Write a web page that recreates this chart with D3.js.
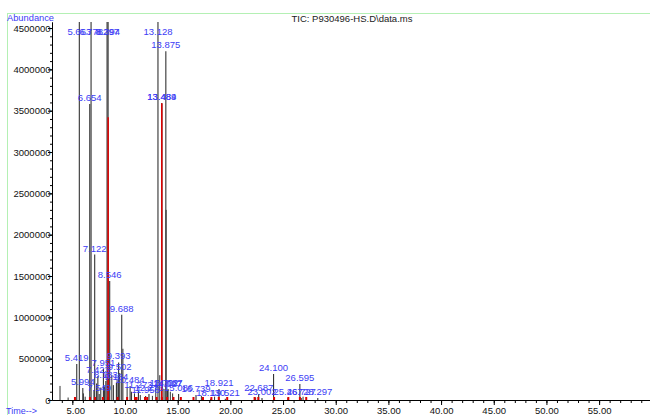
<!DOCTYPE html>
<html>
<head>
<meta charset="utf-8">
<script src="https://cdn.jsdelivr.net/npm/d3@7"></script>
<style>
body{margin:0;background:#fff}
svg text{font-family:"Liberation Sans",Arial,sans-serif}
</style>
</head>
<body>
<div id="chart"></div>
<script>
// labelled peaks: retention time (min) and apex abundance
var peakRt = [5.419, 5.663, 5.994, 6.654, 6.778, 7.122, 7.423, 7.549, 7.951, 8.183, 8.297, 8.394,
  8.546, 9.184, 9.393, 9.502, 9.688, 10.484, 11.273, 11.958, 12.273, 13.128, 13.484, 13.489,
  13.702, 13.875, 14.027, 14.087, 15.086, 16.739, 18.130, 18.921, 19.521, 22.687, 23.002, 24.100,
  25.467, 26.595, 26.727, 28.297]
var peakAbund = [435000, 5000000, 145000, 3580000, 5000000, 1760000, 290000, 73000, 375000, 230000, 5000000, 5000000,
  1440000, 210000, 455000, 327000, 1030000, 170000, 109000, 48000, 73000, 5000000, 3590000, 3590000,
  133000, 4220000, 120000, 133000, 73000, 60000, 14000, 133000, 14000, 73000, 24000, 315000,
  24000, 194000, 24000, 24000]

// smaller unlabelled peaks
var minorRt = [3.83, 4.60, 6.05, 6.22, 7.05, 7.30, 7.70, 8.05, 8.75, 8.90, 9.25, 9.80, 10.20,
  10.62, 10.90, 11.45, 12.60, 12.92, 13.30, 13.90, 14.30, 14.52, 16.50, 17.25, 18.50, 22.40, 26.90]
var minorAbund = [170000, 30000, 80000, 40000, 120000, 200000, 150000, 160000, 300000, 180000, 250000, 620000, 150000,
  100000, 80000, 60000, 50000, 150000, 300000, 2300000, 100000, 80000, 30000, 50000, 40000, 30000, 40000]

// integrated (red) peaks
var redRt = [8.40, 13.489]
var redAbund = [3420000, 3590000]

// red integration marks on the baseline
var markRt = [5.25, 6.67, 7.15, 7.9, 8.4, 9.3, 10.2, 10.95, 11.1, 11.9, 12.1, 13.0, 13.5, 14.0, 14.6,
  15.3, 16.5, 17.4, 18.2, 18.9, 19.7, 22.3, 22.65, 24.15, 25.5, 26.6, 27.2]

var xTicks = d3.range(5, 60, 5)
var xMinor = d3.range(4, 61, 1)
var yTicks = d3.range(0, 4500001, 500000)
var yMinor = d3.range(0, 4500001, 100000)

var W = 650, H = 415
var svg = d3.select("#chart").append("svg").attr("width", W).attr("height", H)

// green frame
svg.append("rect").attr("x", 7.5).attr("y", 13.5).attr("width", 700).attr("height", 500)
  .attr("fill", "none").attr("stroke", "#b4f0b4")

var x = d3.scaleLinear().domain([3.07, 60.4]).range([52, 656])
var y = d3.scaleLinear().domain([0, 4573000]).range([400, 22])

svg.append("defs").append("clipPath").attr("id", "clip")
  .append("rect").attr("x", 52).attr("y", 22).attr("width", 604).attr("height", 378)

var plot = svg.append("g").attr("clip-path", "url(#clip)")

var blue = "#3c3cf5"

// peaks as thin spikes
function spikes(rt, ab, color, w) {
  plot.append("g").selectAll("line").data(rt).enter().append("line")
    .attr("x1", d => x(d)).attr("x2", d => x(d))
    .attr("y1", y(0)).attr("y2", (d, i) => y(ab[i]))
    .attr("stroke", color).attr("stroke-width", w)
}
spikes(minorRt, minorAbund, "#333", 1)
spikes(peakRt, peakAbund, "#333", 1.1)
spikes(redRt, redAbund, "#e00000", 1.5)

// baseline marks
plot.append("g").selectAll("rect").data(markRt).enter().append("rect")
  .attr("x", d => x(d) - 1).attr("y", y(0) - 3).attr("width", 2).attr("height", 3)
  .attr("fill", "#e00000")

// axes
var yAxis = svg.append("g").attr("transform", "translate(52,0)")
  .call(d3.axisLeft(y).tickValues(yTicks).tickSize(4).tickSizeOuter(0).tickFormat(d3.format("d")))
svg.append("g").attr("transform", "translate(52,0)")
  .call(d3.axisLeft(y).tickValues(yMinor).tickSize(2).tickSizeOuter(0).tickFormat(""))
yAxis.selectAll("text").attr("x", -1.5).style("font-size", "9.5px").attr("fill", "#111")

var xAxis = svg.append("g").attr("transform", "translate(0,400)")
  .call(d3.axisBottom(x).tickValues(xTicks).tickSize(5).tickSizeOuter(0).tickFormat(d3.format(".2f")))
svg.append("g").attr("transform", "translate(0,400)")
  .call(d3.axisBottom(x).tickValues(xMinor).tickSize(3).tickSizeOuter(0).tickFormat(""))
xAxis.selectAll("text").attr("y", 7).attr("dx", d => d < 10 ? 3 : 0)
  .style("font-size", "9.5px").attr("fill", "#111")
svg.selectAll(".domain, .tick line").attr("stroke", "#000")

// peak labels
svg.append("g").selectAll("text").data(peakRt).enter().append("text")
  .attr("x", d => x(d))
  .attr("y", (d, i) => Math.max(y(peakAbund[i]), 38) - 3)
  .attr("text-anchor", "middle")
  .attr("fill", blue).style("font-size", "9.5px")
  .text(d => d.toFixed(3))

svg.append("text").attr("x", 7).attr("y", 21).attr("fill", blue)
  .style("font-size", "9.3px").text("Abundance")
svg.append("text").attr("x", 6).attr("y", 414).attr("fill", blue)
  .style("font-size", "9px").text("Time-->")
svg.append("text").attr("x", 352).attr("y", 22).attr("text-anchor", "middle")
  .attr("fill", "#222").style("font-size", "9.5px").text("TIC: P930496-HS.D\\data.ms")
</script>
</body>
</html>
